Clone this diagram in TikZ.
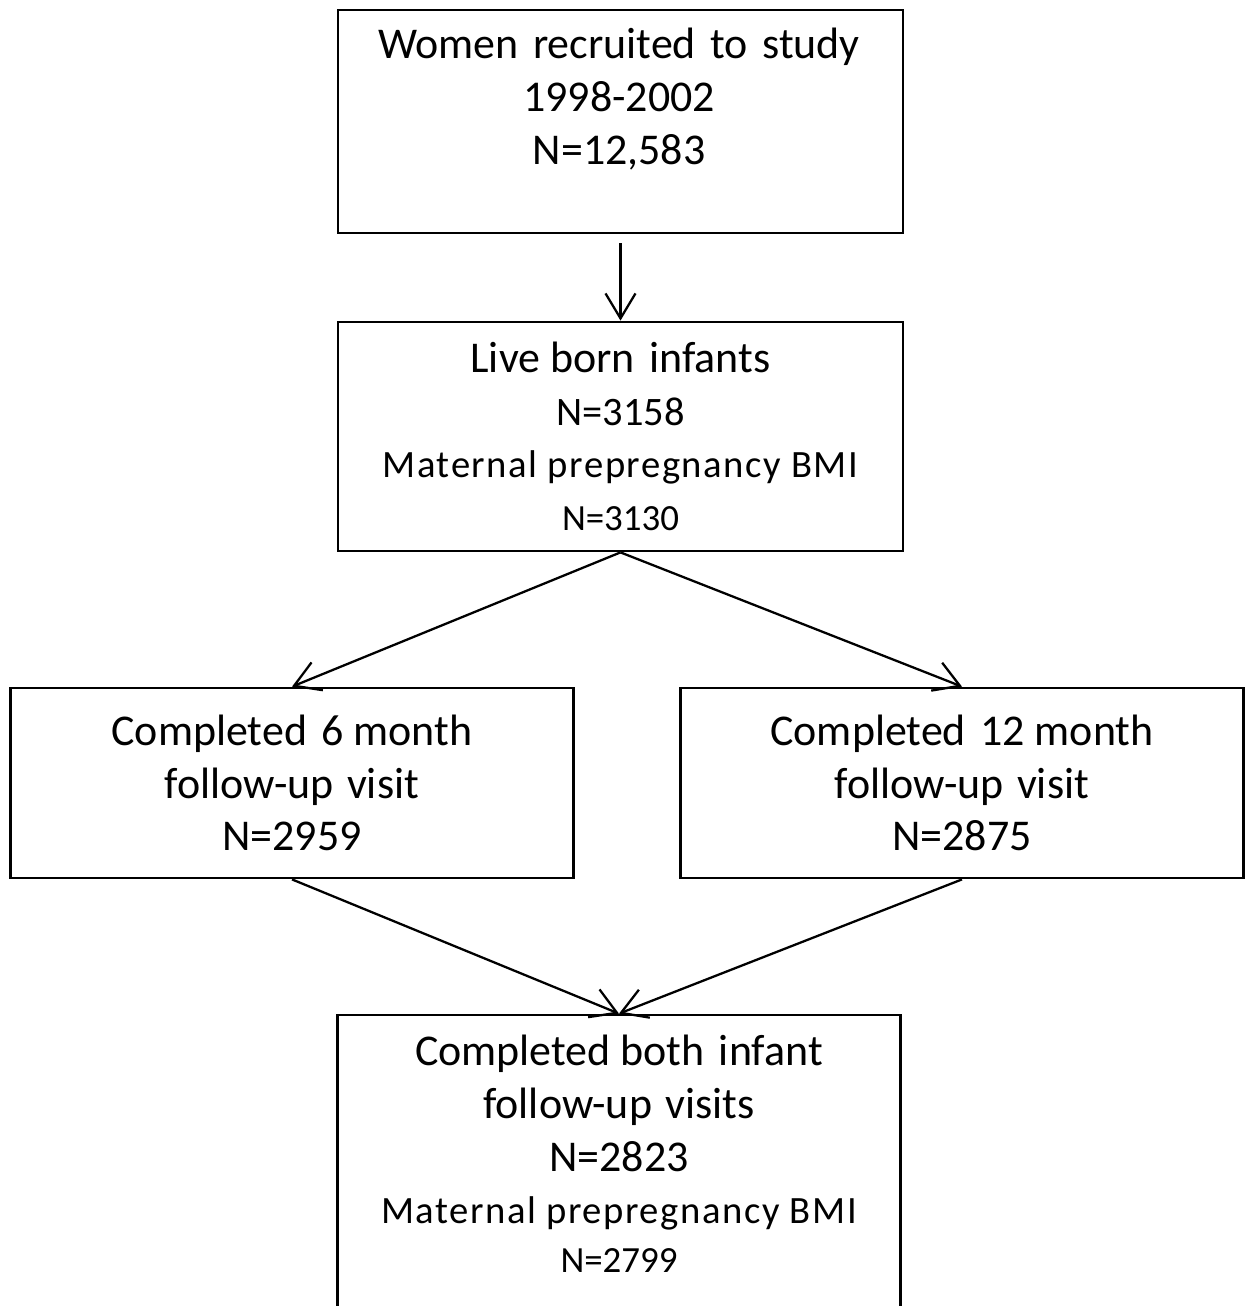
\documentclass[tikz,border=0pt]{standalone}
\usepackage{fontspec}
\setmainfont{Carlito}
\usetikzlibrary{positioning}
\usetikzlibrary{arrows.meta}
\newcommand\bmisize{\fontsize{22}{30}\selectfont\addfontfeature{LetterSpace=4}}
\newcommand\numsize{\fontsize{23}{30}\selectfont}
\newcommand\smallnum{\fontsize{21}{30}\selectfont}
\newcommand\gap{\hspace{0.33em}}

\begin{document}
\begin{tikzpicture}[x=0.02cm, y=-0.02cm, >={Straight Barb[length=0.5cm,width=0.6cm]},
  box/.style={draw, line width=1.6pt, minimum width=11.26cm, inner sep=0pt},
  txt/.style={align=center, font=\fontsize{25}{30}\selectfont},
  arr/.style={->, line width=1.3pt}]

\useasboundingbox (0,0) rectangle (1251,1306);

% boxes
\node [box, minimum width=11.3cm, minimum height=4.46cm] (recruit) at (620.5,121.5) {};
\node [txt] (recruittxt) at (619,99) {Women\gap recruited\gap to\gap study\\1998-2002\\N=12,583};

\node [box, txt, minimum width=11.3cm, minimum height=4.58cm] (live) at (620.5,436.5)
  {Live born\gap infants\\{\numsize N=3158}\\{\bmisize Maternal prepregnancy BMI}\\{\smallnum N=3130}};

\node [box, txt, minimum height=3.8cm] (six) at (292,783) {Completed\gap 6 month\\follow-up\hspace{0.08em} visit\\N=2959};
\node [box, txt, minimum height=3.8cm] (twelve) at (962,783) {Completed\gap 12 month\\follow-up\hspace{0.08em} visit\\N=2875};

\node [box, minimum height=5.86cm] (both) at (619,1161.5) {};
\node [txt] (bothtxt) at (619,1154)
  {Completed both\gap infant\\follow-up\hspace{0.08em} visits\\N=2823\\{\bmisize Maternal prepregnancy BMI}\\[-2pt]{\smallnum N=2799}};

% arrows
\draw [arr, shorten <=5pt] (recruit.south) -- (live.north);
\draw [arr] (live.south) -- (six.north);
\draw [arr] (live.south) -- (twelve.north);
\draw [arr] (six.south) -- (both.north);
\draw [arr] (twelve.south) -- (both.north);

\end{tikzpicture}
\end{document}
